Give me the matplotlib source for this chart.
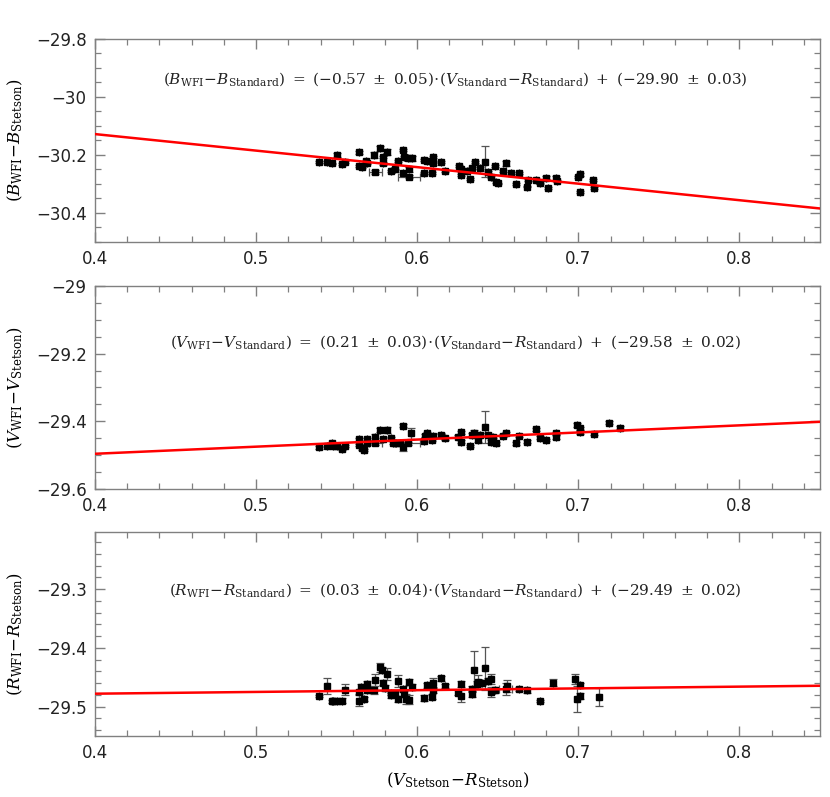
import numpy as np
import matplotlib
matplotlib.use("Agg")
import matplotlib.pyplot as plt
from matplotlib.ticker import MultipleLocator

plt.rcParams['mathtext.fontset'] = 'dejavuserif'
plt.rcParams['font.family'] = ['DejaVu Sans']

# ---- Panel 1: B ----
b_x = [0.539, 0.544, 0.547, 0.550, 0.553, 0.555, 0.564, 0.564, 0.566, 0.568, 0.569, 0.573, 0.574,
       0.577, 0.579, 0.581, 0.579, 0.584, 0.586, 0.588, 0.591, 0.592, 0.594, 0.597, 0.591, 0.595,
       0.595, 0.604, 0.604, 0.606, 0.610, 0.610, 0.609, 0.615, 0.617, 0.626, 0.627, 0.627, 0.631,
       0.633, 0.634, 0.636, 0.639, 0.642, 0.644, 0.646, 0.648, 0.649, 0.650, 0.653, 0.655, 0.658,
       0.661, 0.663, 0.668, 0.669, 0.674, 0.676, 0.680, 0.681, 0.686, 0.687, 0.700, 0.701, 0.701,
       0.709, 0.710]
b_y = [-30.223, -30.223, -30.229, -30.200, -30.232, -30.223, -30.191, -30.238, -30.243, -30.221,
       -30.229, -30.200, -30.258, -30.177, -30.206, -30.189, -30.229, -30.254, -30.250, -30.220,
       -30.183, -30.206, -30.212, -30.212, -30.263, -30.250, -30.275, -30.263, -30.217, -30.220,
       -30.206, -30.229, -30.261, -30.225, -30.254, -30.238, -30.250, -30.269, -30.256, -30.283,
       -30.244, -30.225, -30.246, -30.223, -30.258, -30.275, -30.237, -30.292, -30.298, -30.255,
       -30.229, -30.263, -30.301, -30.262, -30.309, -30.286, -30.286, -30.298, -30.278, -30.315,
       -30.281, -30.289, -30.275, -30.267, -30.327, -30.286, -30.315]
b_yerr = [0.003, 0.003, 0.003, 0.008, 0.003, 0.003, 0.004, 0.003, 0.003, 0.004, 0.003, 0.010, 0.006,
          0.008, 0.004, 0.010, 0.004, 0.003, 0.003, 0.004, 0.004, 0.004, 0.004, 0.010, 0.003, 0.010,
          0.005, 0.003, 0.003, 0.003, 0.004, 0.004, 0.003, 0.003, 0.003, 0.004, 0.004, 0.003, 0.003,
          0.003, 0.003, 0.004, 0.003, 0.053, 0.004, 0.004, 0.003, 0.003, 0.003, 0.003, 0.008, 0.003,
          0.003, 0.003, 0.003, 0.004, 0.003, 0.003, 0.004, 0.003, 0.008, 0.003, 0.003, 0.004, 0.003,
          0.004, 0.003]
b_xerr = [0.0] * 12 + [0.004] + [0.0] * 13 + [0.007] + [0.0] * 40

# ---- Panel 2: V ----
v_x = [0.539, 0.544, 0.547, 0.548, 0.550, 0.553, 0.555, 0.564, 0.564, 0.566, 0.567, 0.569, 0.569,
       0.574, 0.574, 0.577, 0.579, 0.581, 0.584, 0.585, 0.587, 0.589, 0.591, 0.591, 0.594, 0.596,
       0.604, 0.605, 0.606, 0.609, 0.610, 0.615, 0.617, 0.625, 0.627, 0.627, 0.633, 0.634, 0.635,
       0.638, 0.639, 0.642, 0.644, 0.646, 0.647, 0.649, 0.653, 0.655, 0.661, 0.663, 0.668, 0.674,
       0.676, 0.680, 0.686, 0.686, 0.699, 0.701, 0.701, 0.710, 0.719, 0.726]
v_y = [-29.477, -29.472, -29.465, -29.473, -29.473, -29.482, -29.473, -29.470, -29.453, -29.480,
       -29.485, -29.453, -29.463, -29.447, -29.463, -29.426, -29.453, -29.426, -29.450, -29.463,
       -29.465, -29.465, -29.413, -29.477, -29.465, -29.436, -29.457, -29.443, -29.436, -29.455,
       -29.443, -29.440, -29.450, -29.445, -29.433, -29.460, -29.473, -29.440, -29.436, -29.455,
       -29.440, -29.418, -29.440, -29.460, -29.445, -29.465, -29.443, -29.436, -29.465, -29.443,
       -29.460, -29.424, -29.448, -29.455, -29.445, -29.436, -29.411, -29.421, -29.433, -29.437,
       -29.404, -29.419]
v_yerr = [0.004, 0.004, 0.004, 0.004, 0.004, 0.004, 0.004, 0.004, 0.005, 0.004, 0.004, 0.005, 0.004,
          0.008, 0.006, 0.005, 0.004, 0.010, 0.004, 0.004, 0.004, 0.004, 0.005, 0.012, 0.004, 0.015,
          0.004, 0.004, 0.005, 0.004, 0.004, 0.005, 0.004, 0.004, 0.005, 0.004, 0.004, 0.005, 0.010,
          0.005, 0.004, 0.047, 0.005, 0.004, 0.005, 0.004, 0.004, 0.004, 0.004, 0.004, 0.004, 0.005,
          0.004, 0.004, 0.008, 0.005, 0.005, 0.005, 0.004, 0.004, 0.005, 0.004]
v_xerr = [0.0] * 14 + [0.004] + [0.0] * 9 + [0.008] + [0.0] * 37

# ---- Panel 3: R ----
r_x = [0.539, 0.544, 0.547, 0.548, 0.550, 0.553, 0.555, 0.564, 0.564, 0.567, 0.565, 0.569, 0.569,
       0.573, 0.574, 0.577, 0.578, 0.581, 0.579, 0.580, 0.584, 0.584, 0.586, 0.588, 0.588, 0.591,
       0.592, 0.593, 0.595, 0.595, 0.597, 0.604, 0.606, 0.609, 0.610, 0.610, 0.615, 0.617, 0.625,
       0.627, 0.627, 0.634, 0.634, 0.635, 0.637, 0.638, 0.640, 0.642, 0.644, 0.646, 0.646, 0.648,
       0.655, 0.656, 0.663, 0.668, 0.676, 0.684, 0.698, 0.699, 0.701, 0.701, 0.713]
r_y = [-29.482, -29.465, -29.491, -29.491, -29.491, -29.490, -29.471, -29.475, -29.490, -29.487,
       -29.466, -29.462, -29.472, -29.472, -29.455, -29.433, -29.437, -29.445, -29.459, -29.468,
       -29.476, -29.481, -29.478, -29.457, -29.487, -29.470, -29.479, -29.487, -29.488, -29.458,
       -29.466, -29.485, -29.464, -29.483, -29.460, -29.471, -29.452, -29.465, -29.476, -29.462,
       -29.482, -29.478, -29.470, -29.437, -29.462, -29.458, -29.459, -29.435, -29.457, -29.453,
       -29.475, -29.472, -29.470, -29.465, -29.470, -29.472, -29.490, -29.459, -29.453, -29.487,
       -29.482, -29.464, -29.484]
r_yerr = [0.002, 0.014, 0.002, 0.002, 0.002, 0.004, 0.009, 0.004, 0.009, 0.004, 0.004, 0.005, 0.004,
          0.007, 0.010, 0.008, 0.005, 0.010, 0.005, 0.005, 0.005, 0.005, 0.004, 0.010, 0.005, 0.005,
          0.005, 0.008, 0.008, 0.005, 0.005, 0.005, 0.004, 0.004, 0.008, 0.005, 0.004, 0.004, 0.005,
          0.005, 0.010, 0.005, 0.005, 0.032, 0.005, 0.012, 0.005, 0.036, 0.005, 0.008, 0.008, 0.005,
          0.010, 0.010, 0.004, 0.004, 0.002, 0.006, 0.008, 0.022, 0.005, 0.005, 0.015]
r_xerr = [0.0] * 52 + [0.004] + [0.0] * 10

# fits: slope, intercept
fits = [(-0.57, -29.90), (0.21, -29.58), (0.03, -29.49)]
eq_texts = [
    r'$(B_{\rm WFI}\!-\!B_{\rm Standard})\ =\ (-0.57\ \pm\ 0.05)\!\cdot\!(V_{\rm Standard}\!-\!R_{\rm Standard})\ +\ (-29.90\ \pm\ 0.03)$',
    r'$(V_{\rm WFI}\!-\!V_{\rm Standard})\ =\ (0.21\ \pm\ 0.03)\!\cdot\!(V_{\rm Standard}\!-\!R_{\rm Standard})\ +\ (-29.58\ \pm\ 0.02)$',
    r'$(R_{\rm WFI}\!-\!R_{\rm Standard})\ =\ (0.03\ \pm\ 0.04)\!\cdot\!(V_{\rm Standard}\!-\!R_{\rm Standard})\ +\ (-29.49\ \pm\ 0.02)$',
]
ylabels = [r'$(B_{\rm WFI}\!-\!B_{\rm Stetson})$',
           r'$(V_{\rm WFI}\!-\!V_{\rm Stetson})$',
           r'$(R_{\rm WFI}\!-\!R_{\rm Stetson})$']
xlabel = r'$(V_{\rm Stetson}\!-\!R_{\rm Stetson})$'

ylims = [(-30.5, -29.8), (-29.6, -29.0), (-29.55, -29.203)]
ymajor = [0.2, 0.2, 0.1]
yminor = [0.05, 0.05, 0.02]
text_y = [0.80, 0.725, 0.715]

data = [(b_x, b_y, b_xerr, b_yerr), (v_x, v_y, v_xerr, v_yerr), (r_x, r_y, r_xerr, r_yerr)]

fig = plt.figure(figsize=(8.3, 7.97), dpi=100)
rects = [[0.1145, 0.6964, 0.8735, 0.2547],
         [0.1145, 0.3865, 0.8735, 0.2547],
         [0.1145, 0.0765, 0.8735, 0.2560]]
gray = '#808080'
for i in range(3):
    ax = fig.add_axes(rects[i])
    x, y, xe, ye = data[i]
    ax.errorbar(x, y, yerr=ye, xerr=xe, fmt='none', ecolor='#555555', elinewidth=0.9,
                capsize=3, capthick=0.9, zorder=2)
    ax.plot(x, y, 's', color='black', markersize=4, zorder=3)
    xx = np.array([0.4, 0.85])
    m, c = fits[i]
    ax.plot(xx, m * xx + c, color='red', lw=1.8, zorder=4)
    ax.set_xlim(0.4, 0.85)
    ax.set_ylim(*ylims[i])
    ax.xaxis.set_major_locator(MultipleLocator(0.1))
    ax.xaxis.set_minor_locator(MultipleLocator(0.02))
    ax.yaxis.set_major_locator(MultipleLocator(ymajor[i]))
    ax.yaxis.set_minor_locator(MultipleLocator(yminor[i]))
    ax.tick_params(which='both', direction='in', top=True, right=True, color=gray,
                   labelsize=12, labelcolor='#222222')
    ax.tick_params(which='major', length=7.5, width=1.0, pad=6)
    ax.tick_params(which='minor', length=4, width=0.9)
    for sp in ax.spines.values():
        sp.set_color(gray)
        sp.set_linewidth(1.0)
    ax.yaxis.set_major_formatter(matplotlib.ticker.FuncFormatter(
        lambda v, p: ('%g' % round(v, 2)).replace('-', '\u2212')))
    ax.xaxis.set_major_formatter(matplotlib.ticker.FuncFormatter(
        lambda v, p: '%g' % round(v, 2)))
    ax.text(0.497, text_y[i], eq_texts[i], transform=ax.transAxes, ha='center', va='center',
            fontsize=11, color='#222222')
    ax.set_ylabel(ylabels[i], fontsize=12, labelpad=8)
    if i == 2:
        ax.set_xlabel(xlabel, fontsize=12, labelpad=6)

fig.savefig('out.png', dpi=100)
